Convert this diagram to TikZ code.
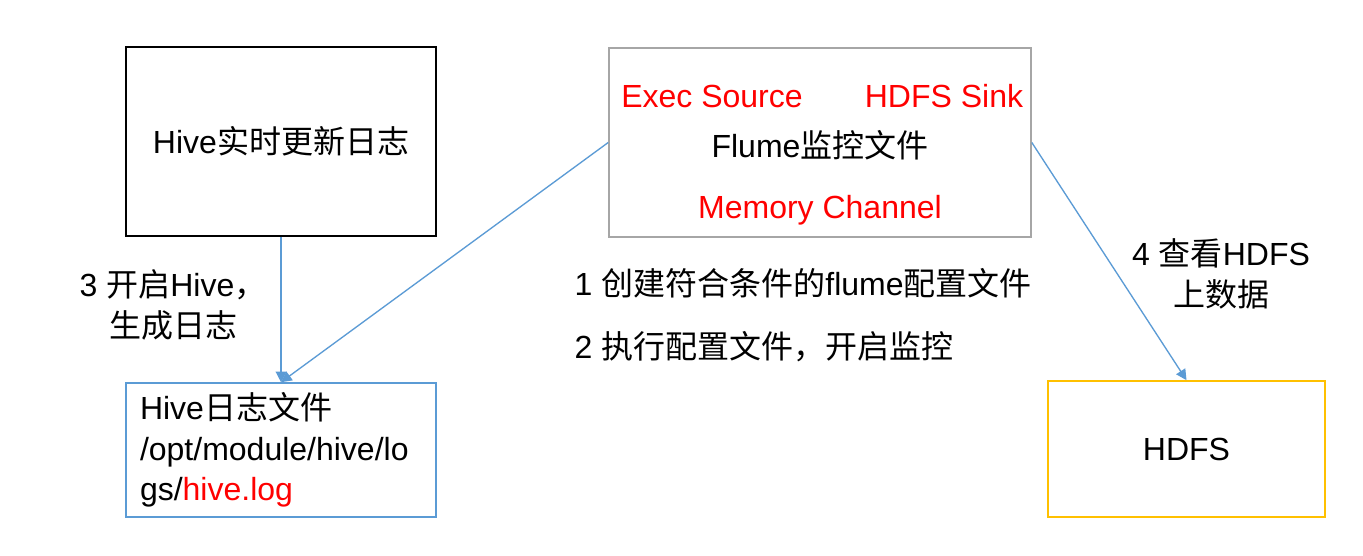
\documentclass[tikz,border=0pt]{standalone}
\usepackage{fontspec}
\setmainfont{Liberation Sans}
\newfontfamily\cjk{Noto Sans CJK SC}
\newcommand{\zh}[1]{{\cjk #1}}
\usetikzlibrary{arrows.meta}
\definecolor{linkblue}{HTML}{5B9BD5}
\definecolor{boxgray}{HTML}{A6A6A6}
\definecolor{hdfsyellow}{HTML}{FFC000}
\begin{document}
\begin{tikzpicture}[x=0.75pt,y=-0.75pt,
    every node/.style={font=\fontsize{24}{30.4}\selectfont},
    box/.style={draw,line width=1.2pt,inner sep=0pt},
    link/.style={draw=linkblue,line width=1pt,-{Triangle[width=8pt,length=8pt]}}]
  \fill[white] (0,0) rectangle (1363,556);
  \useasboundingbox (0,0) rectangle (1363,556);
  \draw
    (281,141.5) node[box,minimum width=232.5pt,minimum height=141.75pt] (hive){Hive\zh{实时更新日志}}
    (820,142.5) node[box,draw=boxgray,minimum width=316.5pt,minimum height=141.75pt] (flume){}
    (281,450) node[box,draw=linkblue,minimum width=232.5pt,minimum height=100.5pt,
      text width=211.5pt,align=left] (log){Hive\zh{日志文件}\\/opt/module/hive/lo\\gs/\textcolor{red}{hive.log}}
    (1186.5,449) node[box,draw=hdfsyellow,minimum width=207.75pt,minimum height=102pt] (hdfs){HDFS};
  \draw
    (712,96) node[red] (source){Exec Source}
    (944,96) node[red] (sink){HDFS Sink}
    (820,145) node (monitor){Flume\zh{监控文件}}
    (820,210) node[red] (channel){Memory Channel};
  \draw
    (173,305) node[align=center] (step3){3 \zh{开启}Hive\zh{，}\\\zh{生成日志}}
    (570,283) node[anchor=west] (step1){1 \zh{创建符合条件的}flume\zh{配置文件}}
    (570,347) node[anchor=west] (step2){2 \zh{执行配置文件，开启监控}}
    (1221,274) node[align=center] (step4){4 \zh{查看}HDFS\\\zh{上数据}};
  \begin{scope}[link]
    \draw (hive) to (log);
    \draw (flume.west) to (log.north);
    \draw (flume.east) to (hdfs.north);
  \end{scope}
\end{tikzpicture}
\end{document}
